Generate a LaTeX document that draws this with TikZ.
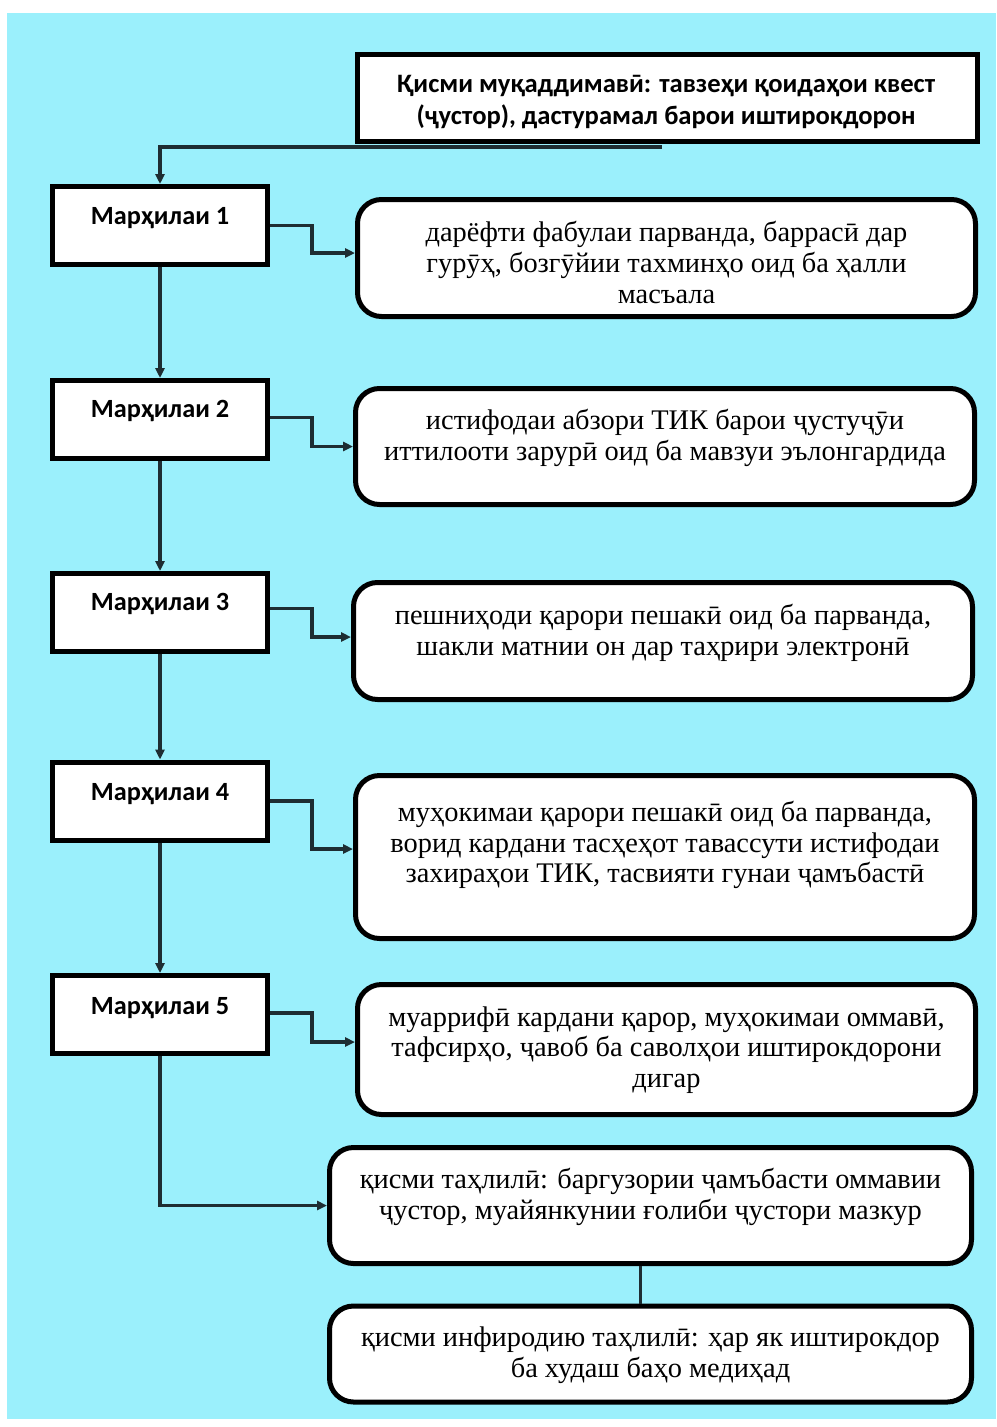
\documentclass[tikz,border=0pt]{standalone}
\usepackage{fontspec}
\setmainfont{Liberation Serif}
\newfontfamily\hdrfont{Carlito}
\usetikzlibrary{arrows.meta,calc}
\definecolor{bgcyan}{RGB}{155,240,252}
\definecolor{conncol}{RGB}{30,45,50}
\begin{document}
\begin{tikzpicture}[x=1pt,y=-1pt,
  sqbox/.style={draw=black, line width=5pt, fill=white, inner sep=0pt, rectangle},
  rbox/.style={sqbox, rounded corners=24pt},
  stagetxt/.style={font=\hdrfont\bfseries\fontsize{26.3}{30}\selectfont, inner sep=0pt},
  hdrtxt/.style={font=\hdrfont\bfseries\fontsize{26.6}{32}\selectfont, inner sep=0pt, align=center},
  bodytxt/.style={font=\fontsize{28.4}{30.7}\selectfont, inner sep=0pt, align=center},
  conn/.style={draw=conncol, line width=3.3pt, -{Triangle[length=10pt,width=9pt]}},
  plainconn/.style={draw=conncol, line width=3.3pt}]
\useasboundingbox (0,0) rectangle (996,1427);
\fill[white] (0,0) rectangle (996,1427);
\fill[bgcyan] (7,13) rectangle (996,1419);

% boxes
\node[sqbox, minimum width=620pt, minimum height=87pt] (hdr) at (667,98) {};
\node[sqbox, minimum width=215pt, minimum height=78pt] (s1) at (160,225.5) {};
\node[sqbox, minimum width=215pt, minimum height=78pt] (s2) at (160,419.5) {};
\node[sqbox, minimum width=215pt, minimum height=78pt] (s3) at (160,612.5) {};
\node[sqbox, minimum width=215pt, minimum height=78pt] (s4) at (160,801) {};
\node[sqbox, minimum width=215pt, minimum height=78pt] (s5) at (160,1014.5) {};
\node[rbox, minimum width=618pt, minimum height=117pt] (r1) at (666.5,258) {};
\node[rbox, minimum width=619pt, minimum height=116pt] (r2) at (665,446.5) {};
\node[rbox, minimum width=619pt, minimum height=117pt] (r3) at (663,641) {};
\node[rbox, minimum width=619pt, minimum height=163pt] (r4) at (665,857) {};
\node[rbox, minimum width=618pt, minimum height=130pt] (r5) at (666.5,1049.5) {};
\node[rbox, minimum width=642pt, minimum height=116pt] (r6) at (650.5,1205.5) {};
\node[rbox, minimum width=642pt, minimum height=96pt] (r7) at (650.5,1354) {};

% texts
\node[hdrtxt] (thdr) at (666,102.5) {Қисми муқаддимавӣ: тавзеҳи қоидаҳои квест\\(ҷустор), дастурамал барои иштирокдорон};
\node[stagetxt] (ts1) at (160,218) {Марҳилаи 1};
\node[stagetxt] (ts2) at (160,411) {Марҳилаи 2};
\node[stagetxt] (ts3) at (160,604) {Марҳилаи 3};
\node[stagetxt] (ts4) at (160,794) {Марҳилаи 4};
\node[stagetxt] (ts5) at (160,1008) {Марҳилаи 5};
\node[bodytxt] (tr1) at (666.5,262.5) {дарёфти фабулаи парванда, баррасӣ дар\\гурӯҳ, бозгӯйии тахминҳо оид ба ҳалли\\масъала};
\node[bodytxt] (tr2) at (665,438) {истифодаи абзори ТИК барои ҷустуҷӯи\\иттилооти зарурӣ оид ба мавзуи эълонгардида};
\node[bodytxt] (tr3) at (663,633) {пешниҳоди қарори пешакӣ оид ба парванда,\\шакли матнии он дар таҳрири электронӣ};
\node[bodytxt] (tr4) at (665,845) {муҳокимаи қарори пешакӣ оид ба парванда,\\ворид кардани тасҳеҳот тавассути истифодаи\\захираҳои ТИК, тасвияти гунаи ҷамъбастӣ};
\node[bodytxt] (tr5) at (666.5,1050) {муаррифӣ кардани қарор, муҳокимаи оммавӣ,\\тафсирҳо, ҷавоб ба саволҳои иштирокдорони\\дигар};
\node[bodytxt] (tr6) at (650.5,1197) {қисми таҳлилӣ: баргузории ҷамъбасти оммавии\\ҷустор, муайянкунии ғолиби ҷустори мазкур};
\node[bodytxt] (tr7) at (650.5,1355.5) {қисми инфиродию таҳлилӣ: ҳар як иштирокдор\\ба худаш баҳо медиҳад};

% connectors
\draw[conn] ([xshift=-5pt,yshift=-3pt]hdr.south) -| (s1.north);
\draw[conn] (s1.south) -- (s2.north);
\draw[conn] (s2.south) -- (s3.north);
\draw[conn] (s3.south) -- (s4.north);
\draw[conn] (s4.south) -- (s5.north);
\draw[conn] (s1.east) -- ([xshift=42pt]s1.east) |- ([yshift=5pt]r1.west);
\draw[conn] ([yshift=2pt]s2.east) -- ([xshift=42pt,yshift=2pt]s2.east) |- (r2.west);
\draw[conn] ([yshift=4pt]s3.east) -- ([xshift=42pt,yshift=4pt]s3.east) |- ([yshift=4pt]r3.west);
\draw[conn] (s4.east) -- ([xshift=42pt]s4.east) |- ([yshift=8pt]r4.west);
\draw[conn] ([yshift=1.5pt]s5.east) -- ([xshift=42pt,yshift=1.5pt]s5.east) |- ([yshift=7.5pt]r5.west);
\draw[conn] (s5.south) |- (r6.west);
\draw[plainconn] ([xshift=-10pt]r6.south) -- ([xshift=-10pt]r7.north);
\end{tikzpicture}
\end{document}
